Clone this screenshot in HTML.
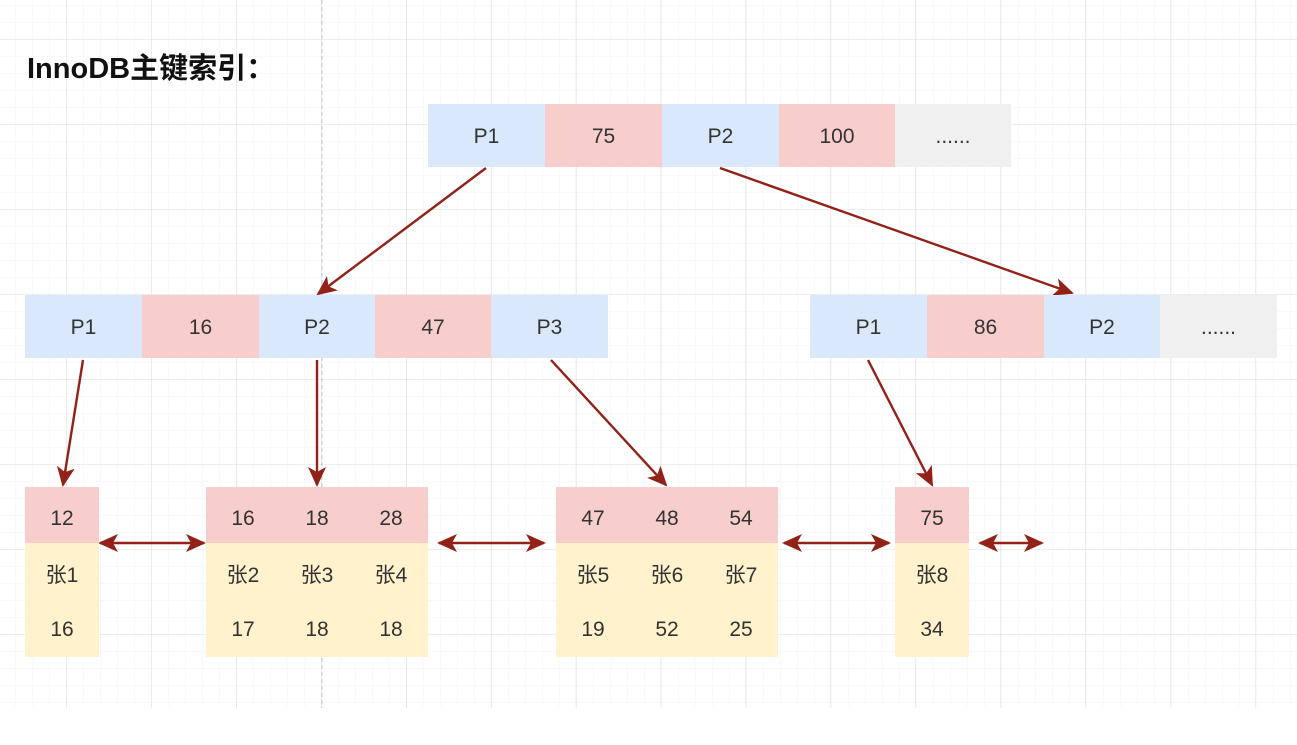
<!DOCTYPE html>
<html><head><meta charset="utf-8"><style>
body{margin:0;width:1297px;height:745px;background:#fff;overflow:hidden;position:relative;font-family:"Liberation Sans","Noto Sans CJK SC",sans-serif}
.c{position:absolute;display:flex;align-items:center;justify-content:center;font-size:21px;color:#333;padding-top:3px;box-sizing:border-box}
.b{background:#dae8fc}.p{background:#f8cecc}.y{background:#fff2cc}.g{background:#f0f0f0}
</style></head><body>
<svg width="1297" height="745" style="position:absolute;left:0;top:0">
<defs>
<pattern id="m" x="-1" y="6" width="17" height="17" patternUnits="userSpaceOnUse"><path d="M17 0V17M0 17H17" stroke="#f3f3f3" stroke-width="1" fill="none"/></pattern>
<pattern id="M" x="-18" y="-45" width="84.9" height="85" patternUnits="userSpaceOnUse"><path d="M84.9 0V85M0 85H84.9" stroke="#dcdcdc" stroke-width="1" fill="none"/></pattern>
<marker id="s" markerWidth="20" markerHeight="18" refX="18" refY="9" orient="auto-start-reverse" markerUnits="userSpaceOnUse"><path d="M0,0 L20,9 L0,18 L5,9z" fill="#922117"/></marker>
</defs>
<rect x="0" y="0" width="1297" height="708" fill="url(#m)"/>
<rect x="0" y="0" width="1297" height="708" fill="url(#M)"/>
<line x1="322" y1="0" x2="322" y2="708" stroke="#c8c8c8" stroke-dasharray="4,3"/>
<g stroke="#922117" stroke-width="2.4" fill="none">
<line x1="486" y1="168" x2="318" y2="294" marker-end="url(#s)"/>
<line x1="720" y1="168" x2="1072" y2="293" marker-end="url(#s)"/>
<line x1="83" y1="360" x2="63" y2="485" marker-end="url(#s)"/>
<line x1="317" y1="360" x2="317" y2="485" marker-end="url(#s)"/>
<line x1="551" y1="360" x2="666" y2="485" marker-end="url(#s)"/>
<line x1="868" y1="360" x2="932" y2="485" marker-end="url(#s)"/>
<line x1="100" y1="543" x2="204" y2="543" marker-start="url(#s)" marker-end="url(#s)"/>
<line x1="439" y1="543" x2="544" y2="543" marker-start="url(#s)" marker-end="url(#s)"/>
<line x1="784" y1="543" x2="889" y2="543" marker-start="url(#s)" marker-end="url(#s)"/>
<line x1="980" y1="543" x2="1042" y2="543" marker-start="url(#s)" marker-end="url(#s)"/>
</g>
</svg>
<div style="position:absolute;left:27px;top:45px;font-size:29px;font-weight:bold;color:#111">InnoDB主键索引：</div>

<div class="c b" style="left:428px;top:104px;width:117px;height:63px">P1</div>
<div class="c p" style="left:545px;top:104px;width:117px;height:63px">75</div>
<div class="c b" style="left:662px;top:104px;width:117px;height:63px">P2</div>
<div class="c p" style="left:779px;top:104px;width:116px;height:63px">100</div>
<div class="c g" style="left:895px;top:104px;width:116px;height:63px">......</div>

<div class="c b" style="left:25px;top:295px;width:117px;height:63px">P1</div>
<div class="c p" style="left:142px;top:295px;width:117px;height:63px">16</div>
<div class="c b" style="left:259px;top:295px;width:116px;height:63px">P2</div>
<div class="c p" style="left:375px;top:295px;width:116px;height:63px">47</div>
<div class="c b" style="left:491px;top:295px;width:117px;height:63px">P3</div>

<div class="c b" style="left:810px;top:295px;width:117px;height:63px">P1</div>
<div class="c p" style="left:927px;top:295px;width:117px;height:63px">86</div>
<div class="c b" style="left:1044px;top:295px;width:116px;height:63px">P2</div>
<div class="c g" style="left:1160px;top:295px;width:117px;height:63px">......</div>

<div class="p" style="position:absolute;left:25px;top:487px;width:74px;height:56px"></div>
<div class="y" style="position:absolute;left:25px;top:543px;width:74px;height:114px"></div>
<div class="p" style="position:absolute;left:206px;top:487px;width:222px;height:56px"></div>
<div class="y" style="position:absolute;left:206px;top:543px;width:222px;height:114px"></div>
<div class="p" style="position:absolute;left:556px;top:487px;width:222px;height:56px"></div>
<div class="y" style="position:absolute;left:556px;top:543px;width:222px;height:114px"></div>
<div class="p" style="position:absolute;left:895px;top:487px;width:74px;height:56px"></div>
<div class="y" style="position:absolute;left:895px;top:543px;width:74px;height:114px"></div>

<div class="c" style="left:25px;top:497px;width:74px;height:40px">12</div>
<div class="c" style="left:25px;top:552px;width:74px;height:40px">张1</div>
<div class="c" style="left:25px;top:608px;width:74px;height:40px">16</div>

<div class="c" style="left:206px;top:497px;width:74px;height:40px">16</div>
<div class="c" style="left:280px;top:497px;width:74px;height:40px">18</div>
<div class="c" style="left:354px;top:497px;width:74px;height:40px">28</div>
<div class="c" style="left:206px;top:552px;width:74px;height:40px">张2</div>
<div class="c" style="left:280px;top:552px;width:74px;height:40px">张3</div>
<div class="c" style="left:354px;top:552px;width:74px;height:40px">张4</div>
<div class="c" style="left:206px;top:608px;width:74px;height:40px">17</div>
<div class="c" style="left:280px;top:608px;width:74px;height:40px">18</div>
<div class="c" style="left:354px;top:608px;width:74px;height:40px">18</div>

<div class="c" style="left:556px;top:497px;width:74px;height:40px">47</div>
<div class="c" style="left:630px;top:497px;width:74px;height:40px">48</div>
<div class="c" style="left:704px;top:497px;width:74px;height:40px">54</div>
<div class="c" style="left:556px;top:552px;width:74px;height:40px">张5</div>
<div class="c" style="left:630px;top:552px;width:74px;height:40px">张6</div>
<div class="c" style="left:704px;top:552px;width:74px;height:40px">张7</div>
<div class="c" style="left:556px;top:608px;width:74px;height:40px">19</div>
<div class="c" style="left:630px;top:608px;width:74px;height:40px">52</div>
<div class="c" style="left:704px;top:608px;width:74px;height:40px">25</div>

<div class="c" style="left:895px;top:497px;width:74px;height:40px">75</div>
<div class="c" style="left:895px;top:552px;width:74px;height:40px">张8</div>
<div class="c" style="left:895px;top:608px;width:74px;height:40px">34</div>
</body></html>
